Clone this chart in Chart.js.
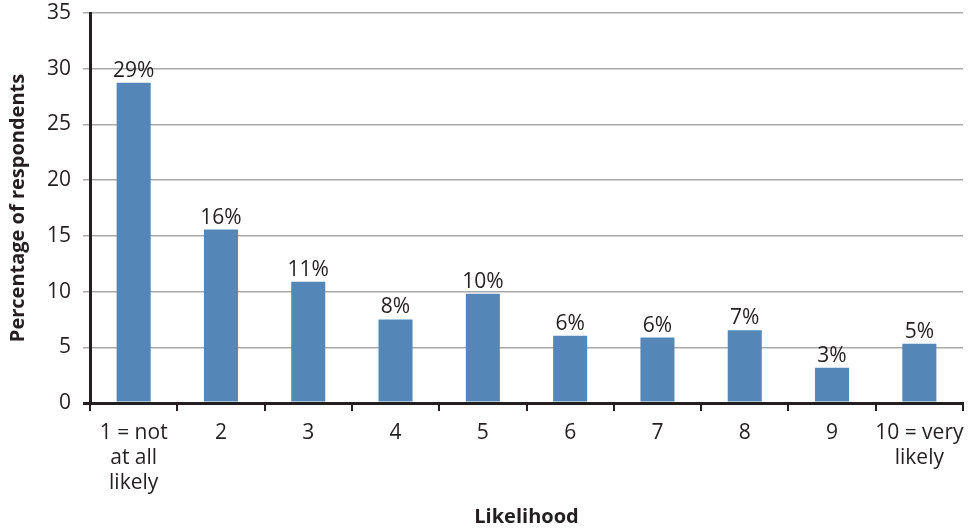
<!DOCTYPE html>
<html>
<head>
<meta charset="utf-8">
<title>Likelihood</title>
<script src="https://cdn.jsdelivr.net/npm/chart.js@4.4.1/dist/chart.umd.min.js"></script>
<style>
  html, body { margin: 0; padding: 0; background: #ffffff; }
  #wrap { width: 970px; height: 529px; }
</style>
</head>
<body>
<div id="wrap"><canvas id="myChart" width="970" height="529"></canvas></div>
<script>
// Dữ liệu
const categories = [
    ['1 = not', 'at all', 'likely'], '2', '3', '4', '5', '6', '7', '8', '9', ['10 = very', 'likely']
];
const percentages = [28.75, 15.56, 10.89, 7.5, 9.81, 6.04, 5.87, 6.52, 3.17, 5.32];
const pctLabels = ['29%', '16%', '11%', '8%', '10%', '6%', '6%', '7%', '3%', '5%'];
const yTicks = { min: 0, max: 35, step: 5 };

const inkColor = '#231f20';
const barColor = '#5487b7';
const fontName = '"Open Sans", "Noto Sans", sans-serif';

// Plugin vẽ nhãn phần trăm trên mỗi cột
const barLabelPlugin = {
    id: 'barLabels',
    afterDatasetsDraw(chart) {
        const ctx = chart.ctx;
        const meta = chart.getDatasetMeta(0);
        ctx.save();
        ctx.font = '21px ' + fontName;
        ctx.fillStyle = inkColor;
        ctx.textAlign = 'center';
        ctx.textBaseline = 'alphabetic';
        meta.data.forEach((bar, i) => {
            ctx.fillText(pctLabels[i], bar.x, bar.y - 6);
        });
        ctx.restore();
    }
};

const ctx = document.getElementById('myChart').getContext('2d');
new Chart(ctx, {
    type: 'bar',
    data: {
        labels: categories,
        datasets: [{
            data: percentages,
            backgroundColor: barColor,
            borderWidth: 0,
            barPercentage: 0.39,
            categoryPercentage: 1
        }]
    },
    options: {
        responsive: false,
        animation: false,
        layout: { padding: { top: 13, right: 7, left: 0, bottom: 0 } },
        plugins: {
            legend: { display: false },
            tooltip: { enabled: false }
        },
        scales: {
            x: {
                offset: true,
                afterFit(scale) {
                    scale.height = 126;
                    scale.paddingLeft = 0;
                    scale.paddingRight = 0;
                },
                grid: {
                    offset: true,
                    drawOnChartArea: false,
                    drawTicks: true,
                    tickLength: 8,
                    color: inkColor,
                    lineWidth: 2
                },
                border: { display: true, color: inkColor, width: 3 },
                ticks: {
                    color: inkColor,
                    font: { family: fontName, size: 21, lineHeight: 1.2 },
                    padding: 9,
                    maxRotation: 0,
                    autoSkip: false
                },
                title: {
                    display: true,
                    text: 'Likelihood',
                    color: inkColor,
                    font: { family: fontName, size: 20, weight: 'bold' },
                    padding: { top: 0, bottom: 0 }
                }
            },
            y: {
                min: yTicks.min,
                max: yTicks.max,
                afterFit(scale) {
                    scale.width = 90;
                    scale.paddingTop = 0;
                    scale.paddingBottom = 0;
                },
                grid: {
                    color: c => (c.tick && c.tick.value === 0) ? inkColor : '#aaaaaa',
                    lineWidth: c => (c.tick && c.tick.value === 0) ? 3 : 1.5,
                    tickLength: 7
                },
                border: { display: true, color: inkColor, width: 3 },
                ticks: {
                    stepSize: yTicks.step,
                    color: inkColor,
                    font: { family: fontName, size: 21 },
                    padding: 12
                },
                title: {
                    display: true,
                    text: 'Percentage of respondents',
                    color: inkColor,
                    font: { family: fontName, size: 20, weight: 'bold' },
                    padding: { top: 6, bottom: 0 }
                }
            }
        }
    },
    plugins: [barLabelPlugin]
});
</script>
</body>
</html>
